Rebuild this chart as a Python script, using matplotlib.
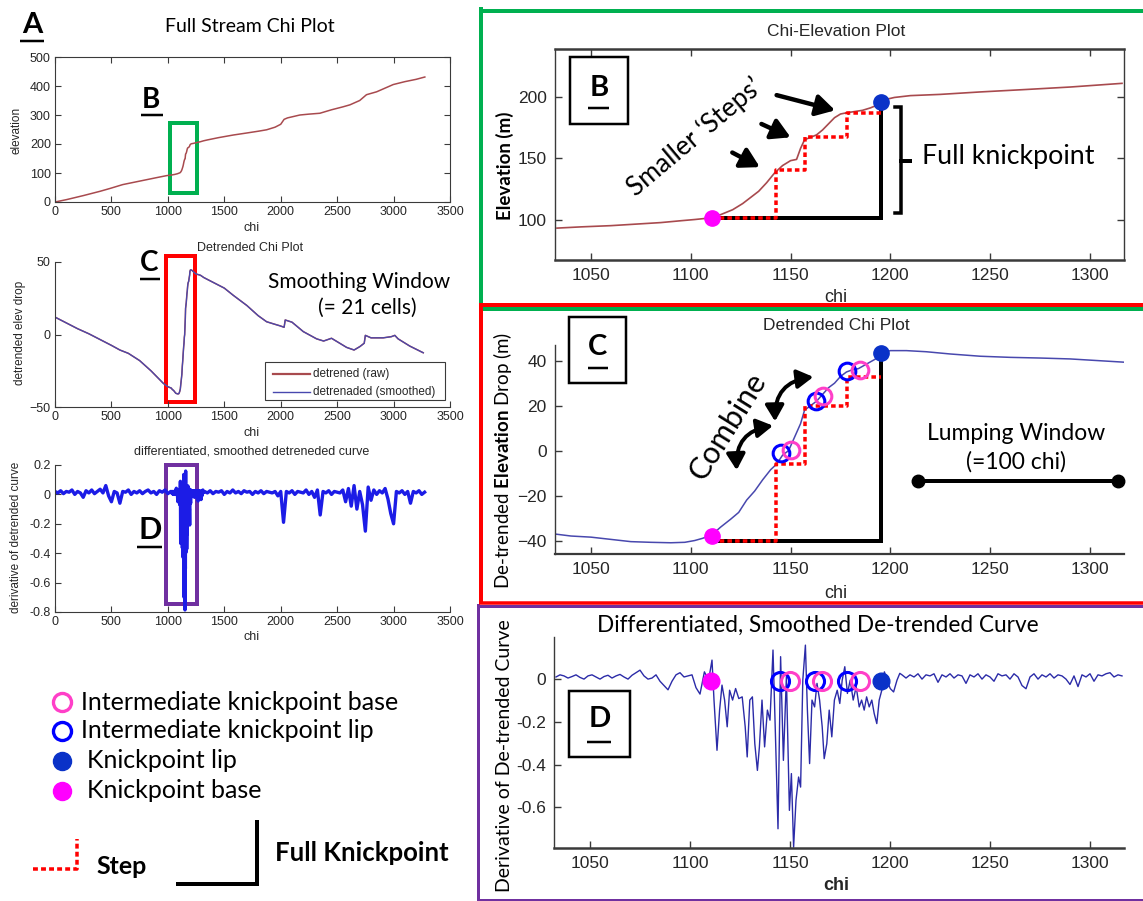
import numpy as np
import matplotlib
matplotlib.use("Agg")
import matplotlib.pyplot as plt
from matplotlib.lines import Line2D
from matplotlib.patches import Rectangle, FancyArrowPatch

W, H = 1143, 901
plt.rcParams["font.family"] = ["Liberation Sans Narrow", "Liberation Sans", "DejaVu Sans"]
plt.rcParams["mathtext.fontset"] = "custom"
plt.rcParams["mathtext.rm"] = "Lato"
plt.rcParams["mathtext.bf"] = "Lato:bold"
ANN = ["Lato", "DejaVu Sans"]

# ---------------- data ----------------
# full stream chi-elevation profile, outside the knickpoint reach
a1_chi_lo = [0, 100, 250, 400, 490, 600, 750, 900, 990]
a1_elev_lo = [0, 8, 22, 37, 47, 60, 72, 84, 91]
a1_chi_hi = [1350, 1450, 1580, 1700, 1800, 1875, 1950, 2000, 2030, 2060, 2170, 2250,
             2347, 2450, 2550, 2613, 2700, 2760, 2850, 2997, 3100, 3200, 3277]
a1_elev_hi = [214, 222, 231, 238, 244, 249, 258, 268, 285, 290, 300, 303,
              306, 318, 328, 335, 350, 370, 380, 405, 415, 423, 431]

# knickpoint reach: chi-elevation
b_chi = [1033, 1045, 1060, 1075, 1085, 1095, 1102, 1108, 1110.5, 1115, 1121, 1126, 1130,
         1134, 1138, 1142, 1146, 1150, 1153, 1155, 1157, 1160, 1163, 1166, 1169, 1172,
         1175, 1178, 1182, 1186, 1190, 1193, 1195.5, 1198, 1202, 1210, 1225, 1245, 1268,
         1290, 1316]
b_elev = [93, 94, 95, 96.5, 97.5, 99, 100, 101, 102, 104, 108, 113, 118,
          123, 130, 138, 144, 148, 149, 158, 165, 167, 169, 173, 178, 183,
          186, 187, 188, 189, 191, 193, 196, 198, 199.5, 201, 202, 204, 206,
          208, 211]

# detrended profile, outside the knickpoint reach
a2_chi_lo = [0, 100, 200, 300, 400, 500, 575, 650, 750, 850, 960, 1000]
a2_val_lo = [12, 8, 4, 0.5, -3.5, -7.5, -10.7, -13, -18, -25, -33.7, -36]
a2_chi_hi = [1350, 1400, 1500, 1580, 1700, 1800, 1875, 1950, 1993, 2030, 2040, 2060, 2100,
             2200, 2318, 2380, 2450, 2584, 2650, 2702, 2740, 2750, 2800, 2908, 2980, 3011,
             3040, 3144, 3263]
a2_val_hi = [38, 36, 32, 27, 20, 13, 8.8, 7, 6, 5, 10, 9.5, 8.5,
             2, -3, -4.5, -2.6, -8.9, -10.7, -8.3, -6, -0.6, -2.3, -2.3, -1.5, -0.6,
             -3, -8, -12.6]

# knickpoint reach: detrended elevation drop
c_chi = [1031, 1040, 1050, 1060, 1070, 1080, 1090, 1097, 1102, 1106, 1110.5, 1115, 1120,
         1124, 1128, 1132, 1136, 1140, 1143, 1146, 1149, 1152, 1155, 1157, 1160, 1163,
         1166, 1169, 1172, 1175, 1178, 1181, 1184, 1187, 1190, 1193, 1195.5, 1200, 1208,
         1218, 1230, 1245, 1260, 1275, 1290, 1305, 1318]
c_val = [-37, -38, -38.5, -39.5, -40.5, -40.8, -41, -40.8, -40, -39, -37.5, -34, -30.5,
         -27.5, -22, -18, -13, -8.5, -6, -2, 0, 6, 12, 18, 20, 22,
         25, 28, 30, 33, 35, 36, 36.5, 38, 39.5, 41, 43.4, 44.5, 44.5,
         44, 43, 42, 41.5, 41.2, 40.8, 40, 39.3]

# derivative of the smoothed detrended curve, knickpoint reach
d_left_chi = np.arange(1033, 1106, 2)
d_left_val = [0.010, 0.020, 0.015, 0.005, 0.012, 0.020, 0.008, 0.000, 0.015, 0.020,
              0.010, 0.000, 0.012, 0.018, 0.005, 0.015, 0.022, 0.010, 0.000, 0.018,
              0.030, 0.042, 0.015, 0.000, 0.005, 0.020, -0.010, -0.030, -0.050, -0.010,
              0.020, 0.030, 0.010, 0.015, 0.020, -0.040, -0.070]
d_mid_chi = [1107.2, 1109.3, 1111.0, 1112.0, 1113.5, 1114.8, 1116.0, 1117.3, 1118.6, 1119.8,
             1121.3, 1122.8, 1124.4, 1126.1, 1127.6, 1128.6, 1129.9, 1131.2, 1132.4, 1133.7,
             1134.7, 1136.0, 1137.3, 1138.7, 1140.0, 1141.5, 1142.7, 1144.0, 1145.3, 1146.7,
             1148.2, 1149.7, 1150.7, 1151.8, 1153.0, 1154.3, 1155.3, 1156.4, 1157.7, 1158.7,
             1159.8, 1161.0, 1162.3, 1163.5, 1164.8, 1166.1, 1167.1, 1168.4, 1169.6, 1170.9,
             1172.2, 1173.6, 1174.9, 1176.1, 1177.4, 1178.7, 1180.1, 1181.6, 1183.1, 1184.6,
             1185.8, 1187.1, 1188.3, 1189.6, 1190.9, 1192.1, 1193.4, 1194.6, 1195.9, 1197.2,
             1198.6, 1200.1, 1201.8, 1203.5, 1204.9]
d_mid_val = [0.034, -0.005, 0.089, -0.098, -0.333, -0.145, -0.028, -0.098, -0.223, -0.052,
             -0.098, -0.044, -0.091, -0.083, -0.223, -0.364, -0.098, -0.083, -0.302, -0.427,
             -0.317, -0.098, -0.317, -0.145, -0.192, 0.136, -0.255, -0.700, 0.105, -0.380,
             0.011, -0.614, -0.442, -0.786, -0.567, -0.458, -0.505, -0.005, 0.159, -0.145,
             -0.395, -0.098, -0.130, -0.020, -0.098, -0.223, -0.372, -0.302, -0.145, -0.270,
             -0.098, -0.052, -0.114, -0.005, 0.058, -0.067, -0.005, -0.098, -0.036, -0.130,
             -0.098, -0.145, -0.083, -0.130, -0.098, -0.161, -0.208, -0.098, -0.052, 0.034,
             -0.005, -0.044, -0.060, -0.005, 0.027]
d_right_chi = np.arange(1206, 1317, 2)
d_right_val = [0.020, 0.005, 0.020, 0.010, 0.025, 0.000, 0.020, 0.015, 0.025, -0.015,
               0.020, 0.010, 0.025, 0.005, 0.020, 0.015, -0.020, 0.020, 0.010, 0.025,
               0.000, 0.020, 0.010, -0.010, 0.025, 0.015, 0.020, 0.000, 0.025, 0.010,
               -0.030, -0.045, 0.010, 0.025, 0.000, 0.020, 0.010, 0.025, 0.005, 0.020,
               0.015, 0.000, -0.025, 0.015, -0.035, 0.020, 0.010, 0.025, -0.010, 0.020,
               0.015, 0.025, 0.030, 0.010, 0.020, 0.015]

# derivative along the rest of the stream
a3_chi_lo = np.arange(0, 1026, 25)
a3_val_lo = [0.02, 0.01, 0.025, 0.005, 0.02, 0.015, 0.03, 0.0, 0.02, 0.01,
             -0.02, 0.025, 0.01, 0.03, 0.005, 0.02, 0.035, 0.01, 0.06, -0.01,
             -0.05, 0.02, 0.01, -0.06, 0.02, 0.015, 0.03, 0.0, 0.02, 0.01,
             0.025, 0.005, 0.02, 0.03, 0.01, 0.02, 0.0, 0.025, 0.015, 0.03,
             0.005, 0.02]
a3_chi_hi = np.arange(1325, 3276, 25)
a3_val_hi = [0.02, 0.01, 0.025, 0.005, 0.02, 0.015, 0.025, 0.0, 0.02, 0.01,
             0.03, 0.01, 0.02, 0.005, 0.025, 0.015, 0.02, 0.0, 0.02, 0.01,
             0.025, 0.005, 0.02, 0.015, 0.01, 0.02, -0.01, 0.02, -0.19, 0.02,
             0.01, 0.025, 0.0, 0.02, 0.015, 0.01, 0.03, 0.0, 0.02, -0.02,
             0.03, -0.14, 0.02, 0.01, 0.025, 0.0, 0.02, 0.015, 0.01, 0.03,
             -0.05, 0.04, -0.08, 0.06, -0.1, 0.02, -0.07, -0.25, 0.05, -0.04,
             0.03, 0.0, 0.025, 0.01, 0.04, -0.03, -0.13, -0.2, 0.02, 0.01,
             0.025, 0.0, 0.02, -0.06, 0.02, 0.01, 0.025, 0.0, 0.015]

# knickpoint picks
kp_base_chi, kp_lip_chi = 1110.5, 1195.5
step_chi = [1142.5, 1157, 1178.5]
b_step_elev = [101.5, 140, 167, 186.5]
b_kp_base_elev, b_kp_lip_elev = 101.5, 196
c_step_val = [-40, -6, 20, 32.8]
c_kp_base_val, c_kp_lip_val = -38, 43.4
ikp_lip_chi = [1145, 1162.5, 1178.5]
ikp_base_chi = [1150, 1166, 1185]
c_ikp_lip_val = [-1.0, 21.9, 35.3]
c_ikp_base_val = [0.1, 24.1, 35.7]
d_pick_val = -0.01
lump_start, lump_window, lump_level = 1214, 100, -13.6
smooth_cells = 21

# assembled series
a1_chi = a1_chi_lo + b_chi + a1_chi_hi
a1_elev = a1_elev_lo + b_elev + a1_elev_hi
a2_chi = a2_chi_lo + c_chi + a2_chi_hi
a2_val = a2_val_lo + c_val + a2_val_hi
d_chi = np.concatenate([d_left_chi, d_mid_chi, d_right_chi])
d_val = np.concatenate([d_left_val, d_mid_val, d_right_val])
a3_chi = np.concatenate([a3_chi_lo, d_chi, a3_chi_hi])
a3_val = np.concatenate([a3_val_lo, d_val, a3_val_hi])

# ---------------- colours ----------------
RAW = "#a84a4e"
SMOOTH = "#4848ae"
DERIV_FULL = "#1c1ce6"
DERIV = "#2b2ba8"
GREEN, RED, PURPLE = "#00b050", "#ff0000", "#7030a0"
PINK, BLUE_O, BLUE_F, MAGENTA = "#ff3fc8", "#0000ff", "#0a32c8", "#ff00ff"
STEP = "#ff0000"

fig = plt.figure(figsize=(W / 100, H / 100), dpi=100)


def rect(l, t, r, b):
    return [l / W, 1 - b / H, (r - l) / W, (b - t) / H]


def fline(xs, ys, **kw):
    fig.add_artist(Line2D([x / W for x in xs], [1 - y / H for y in ys], **kw))


def ftext(x, y, s, **kw):
    return fig.text(x / W, 1 - y / H, s, **kw)


def pt(p):
    return p * 0.72


def style(ax, box=False, size=9, lw=0.8, pad=3, tick=4):
    ax.spines["top"].set_visible(box)
    ax.spines["right"].set_visible(box)
    for sp in ax.spines.values():
        sp.set_color("#3a3a3a")
        sp.set_linewidth(lw)
    ax.tick_params(direction="in", length=tick, width=lw, color="#3a3a3a",
                   labelcolor="#262626", labelsize=size, pad=pad, top=box, right=box)
    ax.set_facecolor("none")


def letter(x, y, s, size=20, ul=None):
    ftext(x, y, s, fontsize=size, fontweight="bold", family=ANN, ha="center", va="center")
    if ul:
        fline(ul[:2], [ul[2], ul[2]], color="k", lw=pt(2.5), solid_capstyle="butt")


def boxed_letter(l, t, r, b, s, cy, ul):
    fig.add_artist(Rectangle((l / W, 1 - b / H), (r - l) / W, (b - t) / H,
                             transform=fig.transFigure, fill=False, ec="k", lw=pt(2.5)))
    letter((l + r) / 2, cy, s, size=21, ul=ul)


# ---------------- panel A: full stream ----------------
ax1 = fig.add_axes(rect(55, 57, 450, 202))
ax1.plot(a1_chi, a1_elev, color=RAW, lw=1.1)
ax1.set_xlim(0, 3500)
ax1.set_ylim(0, 500)
ax1.set_xticks(range(0, 3501, 500))
ax1.set_yticks(range(0, 501, 100))
style(ax1, box=True)
ax1.add_patch(Rectangle((1020, 31), 238, 241, fill=False, ec=GREEN, lw=pt(4), clip_on=False))
ftext(250, 27, "Full Stream Chi Plot", fontsize=14, family=ANN, ha="center", va="center")
ftext(17, 130, "elevation", fontsize=8.5, rotation=90, ha="center", va="center", color="#262626")
ftext(252, 228, "chi", fontsize=9, ha="center", va="center", color="#262626")
letter(32, 25, "A", size=21, ul=(20, 44, 40.5))
letter(151, 100, "B", size=20, ul=(141, 163, 115))

ax2 = fig.add_axes(rect(55, 262, 450, 407))
ax2.plot(a2_chi, a2_val, color=RAW, lw=1.1)
ax2.plot(a2_chi, a2_val, color=SMOOTH, lw=0.9)
ax2.set_xlim(0, 3500)
ax2.set_ylim(-50, 50)
ax2.set_xticks(range(0, 3501, 500))
ax2.set_yticks([-50, 0, 50])
style(ax2)
ax2.add_patch(Rectangle((983, -46.5), 257, 100.5, fill=False, ec=RED, lw=pt(4), clip_on=False))
ftext(250, 248, "Detrended Chi Plot", fontsize=9, ha="center", va="center", color="#262626")
ftext(20, 333, "detrended elev drop", fontsize=8.5, rotation=90, ha="center", va="center", color="#262626")
ftext(252, 433, "chi", fontsize=9, ha="center", va="center", color="#262626")
ftext(359, 282, "Smoothing Window", fontsize=15, family=ANN, ha="center", va="center")
ftext(367, 308, f"(= {smooth_cells} cells)", fontsize=15, family=ANN, ha="center", va="center")
letter(149, 263, "C", size=20, ul=(140, 160, 279))
# legend of the detrended plot
fig.add_artist(Rectangle((265 / W, 1 - 400 / H), 180 / W, 38 / H, transform=fig.transFigure,
                         fill=True, fc="white", ec="#3a3a3a", lw=0.8))
fline([273, 310], [374, 374], color=RAW, lw=1.6)
fline([273, 310], [392, 392], color=SMOOTH, lw=1.0)
ftext(313, 374, "detrened (raw)", fontsize=8.5, va="center", color="#262626")
ftext(313, 392, "detrenaded (smoothed)", fontsize=8.5, va="center", color="#262626")

ax3 = fig.add_axes(rect(55, 465, 450, 612))
ax3.plot(a3_chi, a3_val, color=DERIV_FULL, lw=2.4)
ax3.set_xlim(0, 3500)
ax3.set_ylim(-0.8, 0.2)
ax3.set_xticks(range(0, 3501, 500))
ax3.set_yticks([-0.8, -0.6, -0.4, -0.2, 0, 0.2])
ax3.set_yticklabels(["-0.8", "-0.6", "-0.4", "-0.2", "0", "0.2"])
style(ax3)
ax3.add_patch(Rectangle((983, -0.745), 275, 0.945, fill=False, ec=PURPLE, lw=pt(4), clip_on=False))
ftext(252, 452, "differentiated, smoothed detreneded curve", fontsize=9, ha="center", va="center", color="#262626")
ftext(16, 537, "derivative of detrended curve", fontsize=8.5, rotation=90, ha="center", va="center", color="#262626")
ftext(252, 637, "chi", fontsize=9, ha="center", va="center", color="#262626")
letter(150, 530, "D", size=22, ul=(137, 162, 547))

# ---------------- symbol key ----------------
fline([62], [702], marker="o", ms=13, mfc="none", mec=PINK, mew=2.4, ls="none")
fline([62], [731], marker="o", ms=13, mfc="none", mec=BLUE_O, mew=2.4, ls="none")
fline([62], [761], marker="o", ms=13, mfc=BLUE_F, mec=BLUE_F, ls="none")
fline([62], [791], marker="o", ms=13, mfc=MAGENTA, mec=MAGENTA, ls="none")
ftext(81, 702, "Intermediate knickpoint base", fontsize=18, family=ANN, va="center")
ftext(81, 731, "Intermediate knickpoint lip", fontsize=18, family=ANN, va="center")
ftext(87, 761, "Knickpoint lip", fontsize=18, family=ANN, va="center")
ftext(87, 791, "Knickpoint base", fontsize=18, family=ANN, va="center")
fline([33, 77, 77], [869, 869, 839], color=STEP, lw=pt(3.5), dashes=(1.4, 0.9), dash_capstyle="butt")
ftext(96, 867, "Step", fontsize=18, family=ANN, fontweight="bold", va="center")
fline([178, 257, 257], [884, 884, 822], color="k", lw=pt(4), solid_joinstyle="miter")
ftext(275, 853, "Full Knickpoint", fontsize=18.5, family=ANN, fontweight="bold", va="center")

# ---------------- panel frames ----------------
fline([481, 1143], [11, 11], color=GREEN, lw=pt(4))
fline([481, 481], [9, 309], color=GREEN, lw=pt(4))
fline([481, 1143], [309, 309], color=GREEN, lw=pt(4))
fline([481, 1143], [305, 305], color=RED, lw=pt(4))
fline([481, 481], [305, 602], color=RED, lw=pt(4))
fline([478, 1143], [605.5, 605.5], color=PURPLE, lw=pt(3))
fline([478, 478], [605, 899], color=PURPLE, lw=pt(3))
fline([478, 1143], [899.5, 899.5], color=PURPLE, lw=pt(3))
fline([481, 1143], [602.5, 602.5], color=RED, lw=pt(3.5))

XL = (1032, 1317)

# ---------------- panel B ----------------
axb = fig.add_axes(rect(555, 49, 1124, 260))
axb.plot(b_chi, b_elev, color=RAW, lw=1.2, zorder=2)
axb.plot([kp_base_chi, kp_lip_chi, kp_lip_chi], [b_step_elev[0], b_step_elev[0], b_kp_lip_elev],
         color="k", lw=pt(4), solid_joinstyle="miter", zorder=3)
sx, sy = [kp_base_chi], [b_step_elev[0]]
for i, c in enumerate(step_chi):
    sx += [c, c]
    sy += [b_step_elev[i], b_step_elev[i + 1]]
sx.append(kp_lip_chi)
sy.append(b_step_elev[-1])
axb.plot(sx, sy, color=STEP, lw=pt(3.5), dashes=(1.3, 0.9), dash_capstyle="butt", zorder=4)
axb.plot([kp_base_chi], [b_kp_base_elev], "o", ms=11, color=MAGENTA, zorder=5)
axb.plot([kp_lip_chi], [b_kp_lip_elev], "o", ms=11, color=BLUE_F, zorder=5)
axb.set_xlim(*XL)
axb.set_ylim(67, 239)
axb.set_xticks(range(1050, 1301, 50))
axb.set_yticks([100, 150, 200])
style(axb, box=True, size=12.5, lw=1.0, pad=6, tick=5)
axb.spines["top"].set_linewidth(1.8)
axb.spines["bottom"].set_linewidth(1.8)
for tail, head in [((1143, 201.4), (1172.3, 189)), ((1135.4, 177.9), (1150, 167)),
                   ((1120.8, 154.6), (1134.6, 142.7))]:
    axb.annotate("", xy=head, xytext=tail,
                 arrowprops=dict(arrowstyle="-|>,head_length=0.7,head_width=0.4", lw=3.2,
                                 color="k", shrinkA=0, shrinkB=0, mutation_scale=16))
axb.plot([1202.4, 1205.5, 1205.5, 1202.4], [191.4, 191.4, 105.4, 105.4], color="k",
         lw=pt(3.5), solid_joinstyle="miter", clip_on=False)
axb.plot([1205.5, 1210], [147.3, 147.3], color="k", lw=pt(4))
axb.text(1216, 151, "Full knickpoint", fontsize=19.3, family=ANN, va="center", ha="left")
axb.text(1102, 167, "Smaller \u2018Steps\u2019", fontsize=19, family=ANN, rotation=40,
         rotation_mode="anchor", ha="center", va="center")
ftext(836, 31, "Chi-Elevation Plot", fontsize=12.5, ha="center", va="center", color="#262626")
ftext(836, 297, "chi", fontsize=13, ha="center", va="center", color="#262626")
ftext(505, 166, "Elevation (m)", fontsize=13.5, family=ANN, fontweight="bold", rotation=90,
      ha="center", va="center")
boxed_letter(570, 57, 628, 124, "B", 88, (588, 609, 108))

# ---------------- panel C ----------------
axc = fig.add_axes(rect(555, 345, 1124, 554))
axc.plot(c_chi, c_val, color=SMOOTH, lw=1.1, zorder=2)
axc.plot([kp_base_chi, kp_lip_chi, kp_lip_chi], [c_step_val[0], c_step_val[0], c_kp_lip_val],
         color="k", lw=pt(4), solid_joinstyle="miter", zorder=3)
sx, sy = [kp_base_chi], [c_step_val[0]]
for i, c in enumerate(step_chi):
    sx += [c, c]
    sy += [c_step_val[i], c_step_val[i + 1]]
sx.append(kp_lip_chi)
sy.append(c_step_val[-1])
axc.plot(sx, sy, color=STEP, lw=pt(3.5), dashes=(1.3, 0.9), dash_capstyle="butt", zorder=4)
axc.plot(ikp_lip_chi, c_ikp_lip_val, "o", ms=12, mfc="none", mec=BLUE_O, mew=2.2, zorder=5)
axc.plot(ikp_base_chi, c_ikp_base_val, "o", ms=12, mfc="none", mec=PINK, mew=2.2, zorder=6)
axc.plot([kp_base_chi], [c_kp_base_val], "o", ms=11, color=MAGENTA, zorder=5)
axc.plot([kp_lip_chi], [c_kp_lip_val], "o", ms=11, color=BLUE_F, zorder=5)
axc.set_xlim(*XL)
axc.set_ylim(-46, 47)
axc.set_xticks(range(1050, 1301, 50))
axc.set_yticks([-40, -20, 0, 20, 40])
style(axc, size=12.5, lw=1.0, pad=6, tick=5)
axc.spines["bottom"].set_linewidth(1.6)
for a, b in [((1123.0, -8.7), (1141.2, 11.1)), ((1142.2, 13.0), (1161.4, 32.8))]:
    axc.add_patch(FancyArrowPatch(a, b, connectionstyle="arc3,rad=-0.45",
                                  arrowstyle="<|-|>,head_length=0.6,head_width=0.35",
                                  mutation_scale=16, lw=2.8, color="k", shrinkA=0, shrinkB=0))
axc.text(1118.5, 10.7, "Combine", fontsize=22, family=ANN, rotation=58,
         rotation_mode="anchor", ha="center", va="center")
axc.plot([lump_start, lump_start + lump_window], [lump_level, lump_level], color="k",
         lw=pt(4), marker="o", ms=9, clip_on=False)
ftext(1016, 433, "Lumping Window", fontsize=16.5, family=ANN, ha="center", va="center")
ftext(1016, 462, f"(={lump_window} chi)", fontsize=16.5, family=ANN, ha="center", va="center")
ftext(836, 325, "Detrended Chi Plot", fontsize=12.5, ha="center", va="center", color="#262626")
ftext(836, 593, "chi", fontsize=13, ha="center", va="center", color="#262626")
ftext(503, 460, r"De-trended $\mathbf{Elevation}$ Drop (m)", fontsize=13.5, family=ANN,
      rotation=90, ha="center", va="center")
boxed_letter(569, 317, 626, 383, "C", 347, (588, 608, 368))

# ---------------- panel D ----------------
axd = fig.add_axes(rect(554, 637, 1124, 848))
axd.plot(d_chi, d_val, color=DERIV, lw=1.0, zorder=2)
axd.plot(ikp_lip_chi, [d_pick_val] * 3, "o", ms=13, mfc="none", mec=BLUE_O, mew=2.2, zorder=5)
axd.plot(ikp_base_chi, [d_pick_val] * 3, "o", ms=13, mfc="none", mec=PINK, mew=2.2, zorder=6)
axd.plot([kp_base_chi], [d_pick_val], "o", ms=12, color=MAGENTA, zorder=5)
axd.plot([kp_lip_chi], [d_pick_val], "o", ms=12, color=BLUE_F, zorder=5)
axd.set_xlim(*XL)
axd.set_ylim(-0.79, 0.197)
axd.set_xticks(range(1050, 1301, 50))
axd.set_yticks([-0.6, -0.4, -0.2, 0])
axd.set_yticklabels(["-0.6", "-0.4", "-0.2", "0"])
style(axd, size=12.5, lw=1.0, pad=6, tick=5)
axd.spines["bottom"].set_linewidth(1.8)
ftext(818, 625, "Differentiated, Smoothed De-trended Curve", fontsize=16.3, family=ANN,
      ha="center", va="center")
ftext(836, 886, "chi", fontsize=13, fontweight="bold", ha="center", va="center", color="#262626")
ftext(505, 756, "Derivative of De-trended Curve", fontsize=14, family=ANN, rotation=90,
      ha="center", va="center")
boxed_letter(569, 691, 630, 757, "D", 719, (587, 611, 742))

fig.savefig("out.png", dpi=100)
